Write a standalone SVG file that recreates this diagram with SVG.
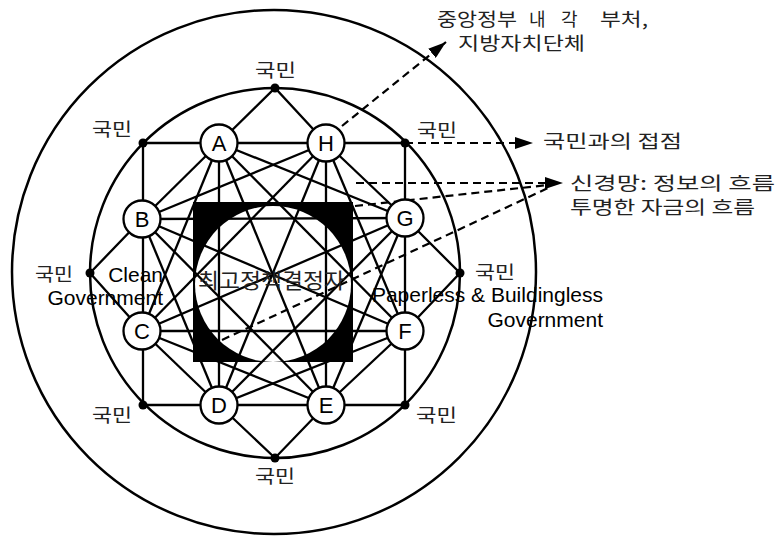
<svg xmlns="http://www.w3.org/2000/svg" width="779" height="537" viewBox="0 0 779 537">
<style>
.ring{fill:none;stroke:#000;stroke-width:2.5}
.e{stroke:#000;stroke-width:2.3;fill:none}
.d{stroke:#000;stroke-width:2.2;fill:none;stroke-dasharray:8 5}
.node circle{fill:#fff;stroke:#000;stroke-width:2.3}
.node text{font-family:"Liberation Sans",Arial,sans-serif;font-size:22px;text-anchor:middle;fill:#000}
.dot{fill:#000}
.kr{font-family:"Noto Sans CJK KR","Noto Sans",sans-serif;fill:#222}
.en{font-family:"Liberation Sans",Arial,sans-serif;font-size:21px;fill:#000}
</style>
<defs>
<marker id="arr" viewBox="0 0 18 12" refX="18" refY="6" markerWidth="18" markerHeight="12" markerUnits="userSpaceOnUse" orient="auto">
<path d="M0,0 L18,6 L0,12 Z" fill="#000"/>
</marker>
</defs>
<rect width="779" height="537" fill="#fff"/>
<circle class="ring" cx="274" cy="272" r="262"/>
<circle class="ring" cx="275" cy="273" r="185"/>
<g id="core">
<rect x="193" y="202" width="160" height="160" fill="#000"/>
<circle cx="273" cy="284" r="78" fill="#fff"/>
</g>
<g id="connectors">
<g class="e">
<line x1="143" y1="143" x2="405" y2="143"/>
<line x1="143" y1="405" x2="405" y2="405"/>
<line x1="143" y1="143" x2="143" y2="405"/>
<line x1="405" y1="143" x2="405" y2="405"/>
<polyline points="219,143 275,88 326,143"/>
<polyline points="142,219 90,273 142,331"/>
<polyline points="405,218 460,273 405,331"/>
<polyline points="219,405 275,458 326,405"/>
<line x1="219" y1="143" x2="142" y2="219"/>
<line x1="219" y1="143" x2="405" y2="218"/>
<line x1="219" y1="143" x2="142" y2="331"/>
<line x1="219" y1="143" x2="405" y2="331"/>
<line x1="219" y1="143" x2="219" y2="405"/>
<line x1="219" y1="143" x2="326" y2="405"/>
<line x1="326" y1="143" x2="142" y2="219"/>
<line x1="326" y1="143" x2="405" y2="218"/>
<line x1="326" y1="143" x2="142" y2="331"/>
<line x1="326" y1="143" x2="405" y2="331"/>
<line x1="326" y1="143" x2="219" y2="405"/>
<line x1="326" y1="143" x2="326" y2="405"/>
<line x1="142" y1="219" x2="405" y2="218"/>
<line x1="142" y1="219" x2="405" y2="331"/>
<line x1="142" y1="219" x2="219" y2="405"/>
<line x1="142" y1="219" x2="326" y2="405"/>
<line x1="405" y1="218" x2="142" y2="331"/>
<line x1="405" y1="218" x2="219" y2="405"/>
<line x1="405" y1="218" x2="326" y2="405"/>
<line x1="142" y1="331" x2="405" y2="331"/>
<line x1="142" y1="331" x2="219" y2="405"/>
<line x1="142" y1="331" x2="326" y2="405"/>
<line x1="405" y1="331" x2="219" y2="405"/>
<line x1="405" y1="331" x2="326" y2="405"/>
</g>
<g class="d">
<line x1="342" y1="126" x2="446" y2="42" marker-end="url(#arr)"/>
<line x1="405" y1="143" x2="533" y2="143" marker-end="url(#arr)"/>
<line x1="356" y1="183" x2="563" y2="183" marker-end="url(#arr)"/>
<line x1="355" y1="206" x2="548" y2="185"/>
<line x1="222" y1="340" x2="548" y2="188"/>
</g>
</g>
<text class="kr" x="198" y="288" font-size="21" textLength="147" lengthAdjust="spacingAndGlyphs">최고정책결정자</text>
<g id="A" class="node"><circle cx="219" cy="143" r="18.5"/><text x="219" y="151">A</text></g>
<g id="H" class="node"><circle cx="326" cy="143" r="18.5"/><text x="326" y="151">H</text></g>
<g id="B" class="node"><circle cx="142" cy="219" r="18.5"/><text x="142" y="227">B</text></g>
<g id="G" class="node"><circle cx="405" cy="218" r="18.5"/><text x="405" y="226">G</text></g>
<g id="C" class="node"><circle cx="142" cy="331" r="18.5"/><text x="142" y="339">C</text></g>
<g id="F" class="node"><circle cx="405" cy="331" r="18.5"/><text x="405" y="339">F</text></g>
<g id="D" class="node"><circle cx="219" cy="405" r="18.5"/><text x="219" y="413">D</text></g>
<g id="E" class="node"><circle cx="326" cy="405" r="18.5"/><text x="326" y="413">E</text></g>
<g id="dots">
<circle class="dot" cx="275" cy="88" r="4.5"/>
<circle class="dot" cx="143" cy="143" r="4.5"/>
<circle class="dot" cx="405" cy="143" r="4.5"/>
<circle class="dot" cx="90" cy="273" r="4.5"/>
<circle class="dot" cx="460" cy="273" r="4.5"/>
<circle class="dot" cx="143" cy="405" r="4.5"/>
<circle class="dot" cx="405" cy="405" r="4.5"/>
<circle class="dot" cx="275" cy="458" r="4.5"/>
</g>
<g id="labels" class="kr" font-size="18">
<text x="255" y="77" textLength="41" lengthAdjust="spacingAndGlyphs">국민</text>
<text x="92" y="136" textLength="40" lengthAdjust="spacingAndGlyphs">국민</text>
<text x="417" y="137" textLength="40" lengthAdjust="spacingAndGlyphs">국민</text>
<text x="35" y="281" textLength="38" lengthAdjust="spacingAndGlyphs">국민</text>
<text x="475" y="279" textLength="40" lengthAdjust="spacingAndGlyphs">국민</text>
<text x="92" y="422" textLength="40" lengthAdjust="spacingAndGlyphs">국민</text>
<text x="416" y="422" textLength="41" lengthAdjust="spacingAndGlyphs">국민</text>
<text x="255" y="483" textLength="40" lengthAdjust="spacingAndGlyphs">국민</text>
</g>
<g id="notes" class="kr" font-size="18">
<text y="26"><tspan x="437" textLength="80" lengthAdjust="spacingAndGlyphs">중앙정부</tspan> <tspan x="529">내</tspan> <tspan x="561">각</tspan> <tspan x="600" textLength="48" lengthAdjust="spacingAndGlyphs">부처,</tspan></text>
<text x="458" y="50" textLength="127" lengthAdjust="spacingAndGlyphs">지방자치단체</text>
<text x="543" y="148" textLength="139" lengthAdjust="spacingAndGlyphs">국민과의 접점</text>
<text x="570" y="190" textLength="205" lengthAdjust="spacingAndGlyphs">신경망: 정보의 흐름</text>
<text x="570" y="214" textLength="185" lengthAdjust="spacingAndGlyphs">투명한 자금의 흐름</text>
</g>
<g id="titles" class="en" text-anchor="end">
<text x="163" y="282">Clean</text>
<text x="163" y="305">Government</text>
<text x="603" y="302">Paperless &amp; Buildingless</text>
<text x="603" y="327">Government</text>
</g>
</svg>
